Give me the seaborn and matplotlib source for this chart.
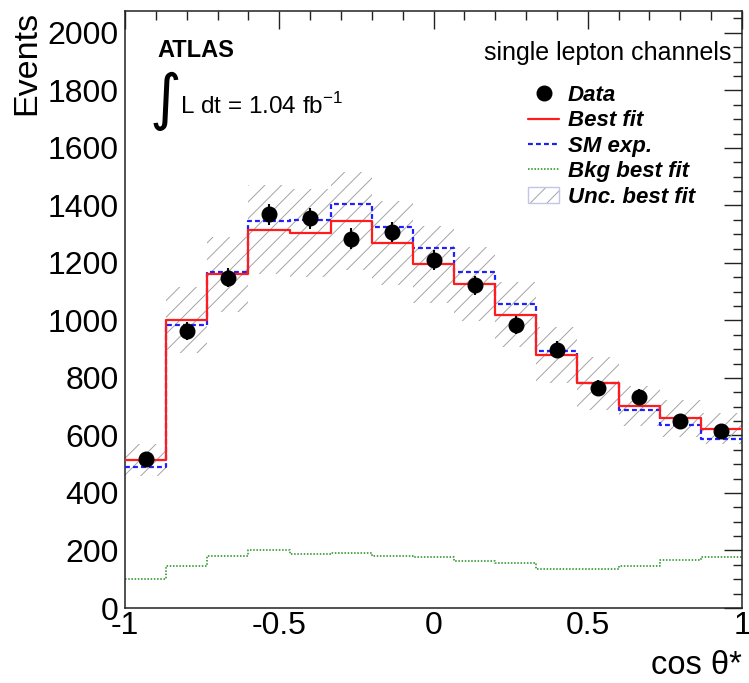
import numpy as np
import pandas as pd
import matplotlib
matplotlib.use("Agg")
import matplotlib.pyplot as plt
from matplotlib.ticker import MultipleLocator
from matplotlib.lines import Line2D
from matplotlib.patches import Patch
from matplotlib.legend_handler import HandlerTuple
import seaborn as sns

# ---- binned distributions in cos(theta*) ----
n_bins = 15
x_range = (-1.0, 1.0)
data_vals = [518, 964, 1149, 1369, 1355, 1284, 1307, 1211, 1122, 983, 898, 766, 734, 649, 616]
data_err = [23, 31, 34, 37, 37, 36, 36, 35, 33, 31, 30, 28, 27, 25, 25]
best_fit = [514, 1002, 1161, 1315, 1304, 1346, 1269, 1196, 1126, 1020, 880, 781, 702, 660, 624]
sm_exp = [489, 983, 1167, 1347, 1350, 1405, 1324, 1251, 1170, 1056, 893, 781, 689, 638, 588]
bkg_fit = [100, 146, 180, 201, 187, 191, 181, 179, 165, 158, 137, 135, 146, 166, 177]
unc_fit = [55, 115, 130, 155, 152, 169, 147, 134, 128, 114, 98, 91, 70, 65, 53]

x_ticks = [-1, -0.5, 0, 0.5, 1]
x_ticklabels = ["-1", "-0.5", "0", "0.5", "1"]
y_ticks = [0, 200, 400, 600, 800, 1000, 1200, 1400, 1600, 1800, 2000]

sns.set_style("white")
plt.rcParams["font.family"] = ["Liberation Sans", "DejaVu Sans"]
plt.rcParams["hatch.linewidth"] = 0.7
for key in ("text.color", "axes.labelcolor", "xtick.color", "ytick.color"):
    plt.rcParams[key] = "black"

HATCH_GREY = "#a4a4a4"

W, H = 749, 683
fig = plt.figure(figsize=(W / 100, H / 100), dpi=100)
ax = fig.add_axes([125 / W, 1 - 608 / H, (742 - 125) / W, (608 - 11) / H])

bin_edges = np.linspace(x_range[0], x_range[1], n_bins + 1)
centers = 0.5 * (bin_edges[:-1] + bin_edges[1:])
df = pd.DataFrame({"cos": centers, "data": data_vals, "best": best_fit,
                   "sm": sm_exp, "bkg": bkg_fit, "unc": unc_fit})

# hatched uncertainty band on the best fit
band_hi = np.append(df["best"] + df["unc"], df["best"].iloc[-1] + df["unc"].iloc[-1])
band_lo = np.append(df["best"] - df["unc"], df["best"].iloc[-1] - df["unc"].iloc[-1])
ax.fill_between(bin_edges, band_lo, band_hi, step="post", facecolor="none",
                edgecolor=HATCH_GREY, hatch="//", linewidth=0, zorder=1)

# step histograms
hist_kw = dict(data=df, x="cos", bins=n_bins, binrange=x_range, element="step",
               fill=False, ax=ax)
sns.histplot(weights="bkg", color="#1b8f1b", lw=1.1, dashes=(1, 1.1), zorder=2, **hist_kw)
sns.histplot(weights="sm", color="#2020ff", lw=1.6, dashes=(2.2, 1.4), zorder=3, **hist_kw)
sns.histplot(weights="best", color="#ff1c1c", lw=1.6, zorder=4, **hist_kw)

# data points
ax.errorbar(df["cos"], df["data"], yerr=data_err, fmt="o", color="black", ms=10.5,
            elinewidth=1.5, capsize=0, zorder=5)

ax.set_xlim(*x_range)
ax.set_ylim(0, 2076)
ax.set_xticks(x_ticks)
ax.set_xticklabels(x_ticklabels)
ax.set_yticks(y_ticks)
ax.xaxis.set_minor_locator(MultipleLocator(0.1))
ax.yaxis.set_minor_locator(MultipleLocator(50))
ax.tick_params(which="both", direction="in", top=True, right=True, width=1.0,
               color="#222222", labelcolor="black")
ax.tick_params(which="major", length=13)
ax.tick_params(which="minor", length=6.5)
ax.tick_params(axis="y", which="major", labelsize=23, pad=4.5)
ax.tick_params(axis="x", which="major", labelsize=23, pad=2.5)
for s in ax.spines.values():
    s.set_linewidth(1.1)
    s.set_color("#222222")

ax.set_ylabel("Events", fontsize=24.5, loc="top", color="black")
ax.yaxis.set_label_coords(-0.1345, 1.0)
ax.set_xlabel("cos θ*", fontsize=23.5, loc="right", color="black")
ax.xaxis.set_label_coords(1.0, -0.070)

# annotations
fig.text(157 / W, 1 - 57 / H, "ATLAS", fontsize=17, fontweight="bold", va="baseline")
fig.text(731 / W, 1 - 60 / H, "single lepton channels", fontsize=18, ha="right", va="baseline")
fig.text(165 / W, 1 - 101 / H, "∫", fontsize=44, ha="center", va="center",
         family=["DejaVu Sans"])
fig.text(180 / W, 1 - 114 / H, r"L dt = 1.04 fb$^{\mathregular{-1}}$", fontsize=17.5,
         va="baseline")

# legend
handles = [
    Line2D([], [], marker="o", ls="none", color="black", ms=10.5),
    Line2D([], [], color="#ff1c1c", lw=1.6),
    Line2D([], [], color="#2020ff", lw=1.6, dashes=(2.2, 1.4)),
    Line2D([], [], color="#1b8f1b", lw=1.1, dashes=(1, 1.1)),
    (Patch(facecolor="none", edgecolor=HATCH_GREY, hatch="//", linewidth=0),
     Patch(facecolor="none", edgecolor="#c4c4e8", linewidth=1.0)),
]
labels = ["Data", "Best fit", "SM exp.", "Bkg best fit", "Unc. best fit"]
ax.legend(handles, labels, loc="upper left", bbox_to_anchor=(528 / W, 1 - 85 / H),
          bbox_transform=fig.transFigure, frameon=False, borderpad=0, borderaxespad=0,
          handlelength=1.4, handleheight=0.75, handletextpad=0.4, labelspacing=0.2,
          prop={"family": "Liberation Sans", "weight": "bold", "style": "italic", "size": 16},
          handler_map={tuple: HandlerTuple(ndivide=1, pad=0)})

fig.savefig("out.png", dpi=100)
